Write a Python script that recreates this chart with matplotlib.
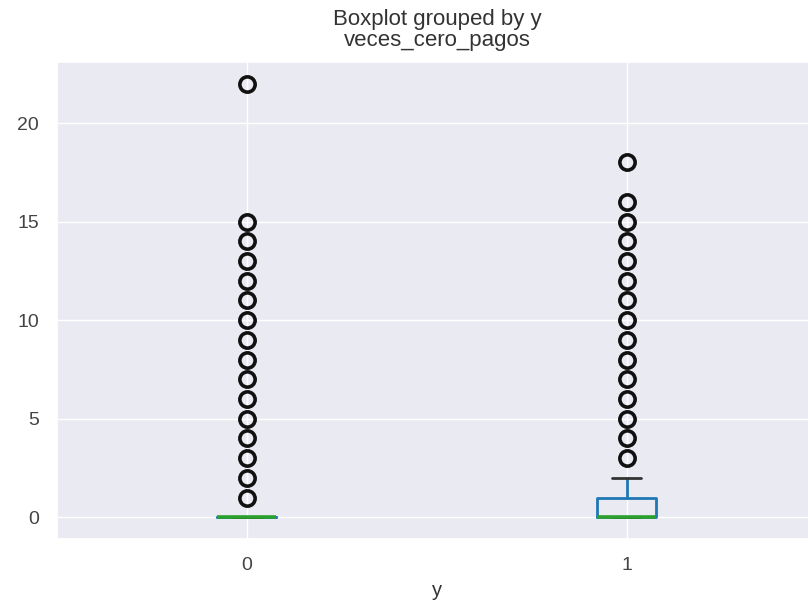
import matplotlib
matplotlib.use("Agg")
import matplotlib.pyplot as plt
import seaborn as sns

sns.set_theme(style="darkgrid")
plt.rcParams["font.family"] = ["Liberation Sans", "DejaVu Sans"]

# Summary statistics of veces_cero_pagos per class of y
groups = ["0", "1"]
medians = [0, 0]
q1 = [0, 0]
q3 = [0, 1]
whisker_lo = [0, 0]
whisker_hi = [0, 2]
fliers = [
    [1, 2, 3, 4, 5, 6, 7, 8, 9, 10, 11, 12, 13, 14, 15, 22],
    [3, 4, 5, 6, 7, 8, 9, 10, 11, 12, 13, 14, 15, 16, 18],
]

stats = [
    dict(label=g, med=m, q1=a, q3=b, whislo=lo, whishi=hi, fliers=f)
    for g, m, a, b, lo, hi, f in zip(groups, medians, q1, q3, whisker_lo, whisker_hi, fliers)
]

fig = plt.figure(figsize=(8.08, 6.07), dpi=100)
ax = fig.add_axes([0.0705, 0.112, 0.94, 0.786])

ax.bxp(
    stats,
    positions=[1, 2],
    widths=0.155,
    boxprops=dict(color="#1f77b4", linewidth=2.0),
    whiskerprops=dict(color="#1f77b4", linewidth=2.0),
    capprops=dict(color="#333333", linewidth=2.0),
    medianprops=dict(color="#2ca02c", linewidth=2.6),
    flierprops=dict(marker="o", markerfacecolor="none", markeredgecolor="#111111",
                    markersize=11, markeredgewidth=2.6),
)

ax.set_xlim(0.5, 2.5)
ax.set_ylim(-1.1, 23.1)
ax.set_yticks([0, 5, 10, 15, 20])
ax.set_xticks([1, 2])
ax.set_xticklabels(groups)
ax.tick_params(axis="both", labelsize=14, colors="#444444")
ax.tick_params(axis="y", pad=7)
ax.tick_params(axis="x", pad=7)
ax.set_xlabel("y", fontsize=14.5, color="#333333", labelpad=5)

# two-line heading: figure suptitle and the column name
fig.text(0.541, 0.958, "Boxplot grouped by y", ha="center", va="baseline",
         fontsize=16, color="#333333")
fig.text(0.541, 0.924, "veces_cero_pagos", ha="center", va="baseline",
         fontsize=16, color="#333333")

fig.savefig("out.png", dpi=100)
